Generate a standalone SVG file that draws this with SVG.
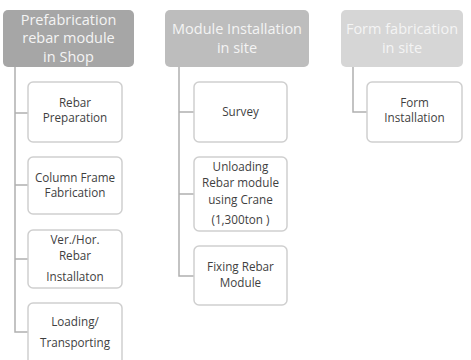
<svg xmlns="http://www.w3.org/2000/svg" width="471" height="360" viewBox="0 0 471 360">
<style>
.hdr{stroke:none}
.h1{fill:#a6a6a6}
.h2{fill:#bdbdbd}
.h3{fill:#d6d6d6}
.ht{font-family:"Open Sans","Liberation Sans",sans-serif;font-size:14.5px;fill:#f4f4f4;text-anchor:middle}
.box{fill:#ffffff;stroke:#cfcfcf;stroke-width:1.5}
.bt{font-family:"Open Sans","Liberation Sans",sans-serif;font-size:11.7px;fill:#3f3f3f;text-anchor:middle}
.con{fill:none;stroke:#b0b0b0;stroke-width:1.5}
</style>
<rect width="471" height="360" fill="#ffffff"/>
<g id="connectors">
<path class="con" d="M15 67 V332 H28 M15 113 H28 M15 185 H28 M15 259 H28"/>
<path class="con" d="M179 67 V276 H194 M179 112 H194 M179 194 H194"/>
<path class="con" d="M353 67 V112 H367"/>
</g>
<g id="header1"><rect class="hdr h1" x="3" y="10" width="131" height="57" rx="5"/>
<text class="ht" x="68.5" y="25">Prefabrication</text><text class="ht" x="68.5" y="43">rebar module</text><text class="ht" x="68.5" y="62">in Shop</text></g>
<g id="header2"><rect class="hdr h2" x="165" y="10" width="144" height="57" rx="5"/>
<text class="ht" x="237" y="34">Module Installation</text><text class="ht" x="237" y="53">in site</text></g>
<g id="header3"><rect class="hdr h3" x="341" y="10" width="122" height="57" rx="5"/>
<text class="ht" x="402" y="34">Form fabrication</text><text class="ht" x="402" y="53">in site</text></g>
<g id="rebar-prep"><rect class="box" x="28" y="82" width="94" height="60" rx="5"/>
<text class="bt" x="75" y="107">Rebar</text><text class="bt" x="75" y="122">Preparation</text></g>
<g id="column-frame"><rect class="box" x="28" y="157" width="94" height="57" rx="5"/>
<text class="bt" x="75" y="182">Column Frame</text><text class="bt" x="75" y="197">Fabrication</text></g>
<g id="ver-hor"><rect class="box" x="28" y="230" width="94" height="58" rx="5"/>
<text class="bt" x="75" y="244">Ver./Hor.</text><text class="bt" x="75" y="260">Rebar</text><text class="bt" x="75" y="281">Installaton</text></g>
<g id="loading"><rect class="box" x="28" y="303" width="94" height="62" rx="5"/>
<text class="bt" x="75" y="326">Loading/</text><text class="bt" x="75" y="347">Transporting</text></g>
<g id="survey"><rect class="box" x="194" y="82" width="93" height="60" rx="5"/>
<text class="bt" x="240.5" y="116">Survey</text></g>
<g id="unloading"><rect class="box" x="194" y="157" width="93" height="74" rx="5"/>
<text class="bt" x="240.5" y="171">Unloading</text><text class="bt" x="240.5" y="187">Rebar module</text><text class="bt" x="240.5" y="204">using Crane</text><text class="bt" x="240.5" y="224">(1,300ton )</text></g>
<g id="fixing"><rect class="box" x="194" y="246" width="93" height="59" rx="5"/>
<text class="bt" x="240.5" y="271">Fixing Rebar</text><text class="bt" x="240.5" y="287">Module</text></g>
<g id="form-install"><rect class="box" x="367" y="82" width="95" height="60" rx="5"/>
<text class="bt" x="414.5" y="107">Form</text><text class="bt" x="414.5" y="122">Installation</text></g>
</svg>
